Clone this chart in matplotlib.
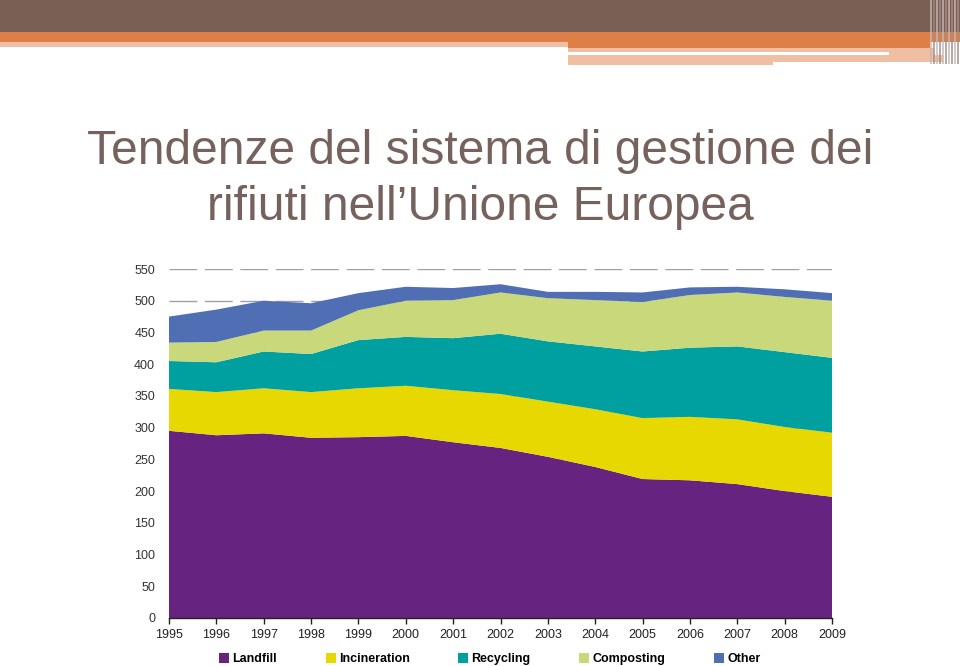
import matplotlib
matplotlib.use("Agg")
import matplotlib.pyplot as plt
from matplotlib.patches import Rectangle
import numpy as np

# data (kg per capita)
years = [1995, 1996, 1997, 1998, 1999, 2000, 2001, 2002,
         2003, 2004, 2005, 2006, 2007, 2008, 2009]
landfill = [295, 288, 291, 284, 285, 287, 277, 268, 254, 238, 219, 217, 211, 200, 191]
incineration = [66, 68, 71, 72, 77, 79, 82, 85, 87, 91, 96, 100, 102, 101, 101]
recycling = [44, 47, 58, 60, 76, 77, 82, 95, 95, 99, 105, 109, 115, 118, 118]
composting = [29, 32, 33, 37, 47, 57, 60, 65, 68, 73, 78, 83, 85, 87, 90]
other = [41, 51, 47, 43, 27, 22, 19, 13, 10, 13, 15, 12, 9, 12, 12]

labels = ["Landfill", "Incineration", "Recycling", "Composting", "Other"]
colors = ["#66237F", "#E6D800", "#00A0A0", "#C8D87A", "#4F6EB4"]
yticks = list(range(0, 551, 50))

title_lines = ["Tendenze del sistema di gestione dei", "rifiuti nell\u2019Unione Europea"]

W, H = 960, 666
fig = plt.figure(figsize=(W / 100, H / 100), dpi=100)
fig.patch.set_facecolor("white")

# slide decoration (pixel coords overlay)
deco = fig.add_axes([0, 0, 1, 1])
deco.set_xlim(0, W)
deco.set_ylim(H, 0)
deco.axis("off")
brown = "#7A5F55"
orange = "#DF7F48"
peach = "#F0BEA2"
deco.add_patch(Rectangle((0, 0), W, 32, color=brown, lw=0))
deco.add_patch(Rectangle((0, 32), W, 10, color=orange, lw=0))
deco.add_patch(Rectangle((0, 42), 568, 5, color=peach, lw=0))
deco.add_patch(Rectangle((568, 42), 362, 5.5, color=orange, lw=0))
deco.add_patch(Rectangle((568, 47.5), 362, 4.5, color=peach, lw=0))
deco.add_patch(Rectangle((568, 55), 205, 9.5, color=peach, lw=0))
deco.add_patch(Rectangle((773, 55), 170, 6.5, color=peach, lw=0))
deco.add_patch(Rectangle((889, 47.5), 45, 12, color=peach, lw=0))
for i, x in enumerate(np.arange(930, 960, 3)):
    deco.add_patch(Rectangle((x, 0), 2.2, 64, color="#A08C86" if i % 2 else "#C9B7B0", lw=0, alpha=0.75))

title_color = "#76625C"
deco.text(480, 151, title_lines[0], ha="center", va="center", fontsize=34.5,
          color=title_color, family=["Liberation Sans", "DejaVu Sans"])
deco.text(480, 208, title_lines[1], ha="center", va="center", fontsize=34.5,
          color=title_color, family=["Liberation Sans", "DejaVu Sans"])

# chart
ax = fig.add_axes([169 / W, 1 - 618 / H, (832 - 169) / W, (618 - 269) / H])
ax.stackplot(years, landfill, incineration, recycling, composting, other,
             colors=colors, labels=labels, zorder=2, linewidth=0)
ax.set_xlim(years[0], years[-1])
ax.set_ylim(0, 550)
ax.set_xticks(years)
ax.set_yticks(yticks)
ax.set_axisbelow(True)
ax.yaxis.grid(True, color="#A0A0A0", linestyle=(0, (20, 5.5)), linewidth=1)
for s in ["top", "right", "left"]:
    ax.spines[s].set_visible(False)
ax.spines["bottom"].set_color("#222222")
ax.spines["bottom"].set_linewidth(1)
ax.spines["bottom"].set_zorder(3)
tick_font = ["Liberation Sans Narrow", "Liberation Sans", "DejaVu Sans"]
ax.tick_params(axis="y", length=0, pad=10, labelsize=9, labelcolor="#333333")
ax.tick_params(axis="x", length=4, width=1, color="#222222", direction="out",
               pad=4, labelsize=9, labelcolor="#222222")
for lab in ax.get_xticklabels() + ax.get_yticklabels():
    lab.set_family(tick_font)

leg = ax.legend(loc="upper center", bbox_to_anchor=(0.484, -0.068), ncol=5,
                frameon=False, handlelength=0.8, handleheight=0.8, handletextpad=0.25,
                columnspacing=3.9, prop={"family": tick_font, "weight": "bold", "size": 9})

fig.savefig("out.png", dpi=100, facecolor="white")
